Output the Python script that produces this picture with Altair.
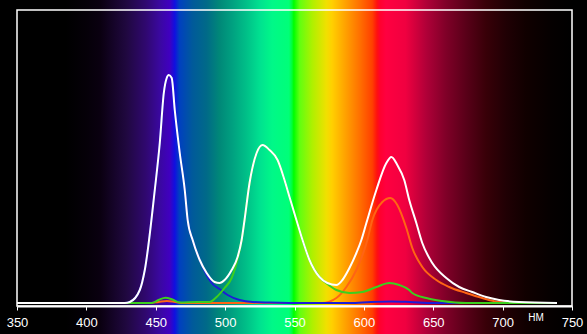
import altair as alt
import pandas as pd

# ---- data (wavelength in nm, relative intensity in a.u.) ----
white_nm = [350, 427.7, 431.3, 438.5, 442.1, 449.3, 452.9, 455.8, 457.9, 459.4, 461.5, 463.7,
            467.3, 470.9, 473.0, 476.6, 481.7, 486.7, 492.4, 496.0, 499.6, 504.7, 509.0, 511.9,
            514.0, 517.6, 522.7, 527.0, 532.0, 537.8, 542.8, 546.4, 551.4, 555.8, 560.8, 568.0,
            573.7, 580.2, 584.5, 589.6, 594.6, 598.2, 601.8, 609.0, 616.2, 619.8, 624.1, 629.1,
            632.7, 637.8, 642.1, 649.3, 659.4, 668.7, 678.1, 688.1, 697.5, 711.9, 739.2]
white_val = [0, 0, 1, 13, 33, 113, 160, 210, 225, 228, 225, 193,
             150, 113, 83, 63, 43, 30, 21, 20, 23, 33, 46, 63,
             83, 120, 150, 158, 153, 143, 123, 106, 83, 63, 43, 26,
             20, 18, 23, 35, 50, 63, 80, 113, 140, 146, 138, 123,
             103, 80, 60, 40, 25, 16, 11, 6, 3, 1, 0]

blue_nm = [380, 427.7, 431.3, 438.5, 442.1, 449.3, 452.9, 455.8, 457.9, 459.4, 461.5, 463.7,
           467.3, 470.9, 473.0, 476.6, 481.7, 486.7, 490.3, 496.0, 501.8, 510.4, 519.8, 532.0,
           560.0, 590.0, 605.0, 620.0, 633.0, 650.0, 739.0]
blue_val = [0, 0, 1, 13, 33, 113, 160, 210, 225, 228, 225, 193,
            150, 113, 83, 63, 43, 28, 20, 14, 8, 3, 1, 0.5,
            0, 0, 1, 1.5, 1, 0, 0]

green_nm = [380, 440, 447, 452, 457, 462, 467.3, 480, 488.8, 493.9, 499.6, 504.7, 509.0,
            511.9, 514.0, 517.6, 522.7, 527.0, 532.0, 537.8, 542.8, 546.4, 551.4, 555.8,
            560.8, 568.0, 573.7, 580.2, 589.6, 598.9, 609.0, 618.3, 625.5, 632.7, 634.9,
            645.0, 656.5, 673.7, 739.0]
green_val = [0, 0, 0, 3, 5.3, 3.5, 0.5, 1, 1, 6, 15, 25, 44,
             63, 83, 120, 150, 158, 153, 143, 123, 106, 83, 63,
             43, 26, 19, 13, 10, 11, 16, 20, 18, 13, 10,
             5, 2, 0, 0]

red_nm = [380, 445, 452, 458, 464, 470, 570, 580.2, 587.4, 594.6, 602.5, 606.1, 613.3,
          619.1, 624.1, 630.6, 634.9, 642.1, 652.2, 661.5, 673.7, 685.3, 697.5, 711.9, 739.0]
red_val = [0, 0, 1, 2, 1, 0, 0, 5, 16, 33, 63, 83, 101,
           105, 98, 75, 55, 36, 23, 16, 10, 5, 1, 0, 0]

tick_values = [350, 400, 450, 500, 550, 600, 650, 700, 750]
unit_label = "НМ"

# ---- styling ----
series = [
    ("red", red_nm, red_val, "#ff6414"),
    ("blue", blue_nm, blue_val, "#1c1cd8"),
    ("green", green_nm, green_val, "#3ccf1e"),
    ("white", white_nm, white_val, "#ffffff"),
]

spectrum_stops = [
    (350, "#000000"), (385, "#000000"), (400, "#050008"), (410, "#0a0010"), (429, "#200840"),
    (443, "#300870"), (453, "#3a08a0"), (460, "#4000c0"), (463.7, "#1010e0"), (467, "#0040c0"),
    (476.6, "#005a9a"), (486.7, "#006a88"), (496, "#008878"), (505, "#00a080"), (515.5, "#00c088"),
    (524.8, "#00e090"), (534, "#00f888"), (546, "#00ff78"), (548, "#00ff40"), (549.5, "#00ff00"),
    (553.6, "#60ff10"), (563, "#b0f000"), (573, "#f0e000"), (577, "#ffd000"), (587, "#ffa000"),
    (597, "#ff7000"), (606, "#ff4000"), (609.5, "#ff1010"), (612, "#ff0030"), (616, "#ff0040"),
    (630, "#f00040"), (645, "#b00038"), (659, "#800028"), (674, "#580018"), (688, "#380008"),
    (702.5, "#200004"), (717, "#100000"), (735, "#050000"), (750, "#000000"),
]

x_scale = alt.Scale(domain=[350, 750], nice=False, zero=False)
y_scale = alt.Scale(domain=[-3, 293], nice=False, zero=False)

x_axis = alt.Axis(
    values=tick_values, title=unit_label, titleX=518.5, titleY=11, titleAlign="center",
    titleBaseline="middle", titleFontSize=10, titleFontWeight="normal", titleColor="white",
    titleFont="Liberation Sans", labelColor="white", labelFontSize=13, labelFont="Liberation Sans",
    labelPadding=6, tickSize=4, tickColor="white", tickWidth=1, domainColor="white",
    domainWidth=2, grid=False, zindex=1, labelFlush=False, labelOverlap=False,
)

stops = [alt.GradientStop(offset=(nm - 350) / 400, color=c) for nm, c in spectrum_stops]
bg = alt.Chart(pd.DataFrame({"a": [350], "b": [750]})).mark_rect(
    color=alt.Gradient(gradient="linear", stops=stops, x1=0, x2=1, y1=0, y2=0)
).encode(
    x=alt.X("a:Q", scale=x_scale, axis=x_axis),
    x2="b:Q",
    y=alt.value(-10),
    y2=alt.value(324),
)

layers = [bg]
for name, xs, ys, col in series:
    d = pd.DataFrame({"nm": xs, "val": ys})
    layers.append(
        alt.Chart(d).mark_line(color=col, strokeWidth=2, interpolate="monotone").encode(
            x=alt.X("nm:Q", scale=x_scale, axis=x_axis),
            y=alt.Y("val:Q", scale=y_scale, axis=None),
        )
    )

frame = alt.Chart(pd.DataFrame({"a": [0]})).mark_rect(
    filled=False, stroke="white", strokeWidth=1.5
).encode(
    x=alt.value(0), x2=alt.value("width"), y=alt.value(0), y2=alt.value("height")
)
layers.append(frame)

chart = alt.layer(*layers).properties(
    width=555, height=296,
    padding={"left": 17, "top": 10, "right": 15, "bottom": 28},
    autosize=alt.AutoSizeParams(type="none"),
    background="black",
).configure_view(stroke=None)

chart.save("out.html", embed_options={"renderer": "svg", "actions": False})
